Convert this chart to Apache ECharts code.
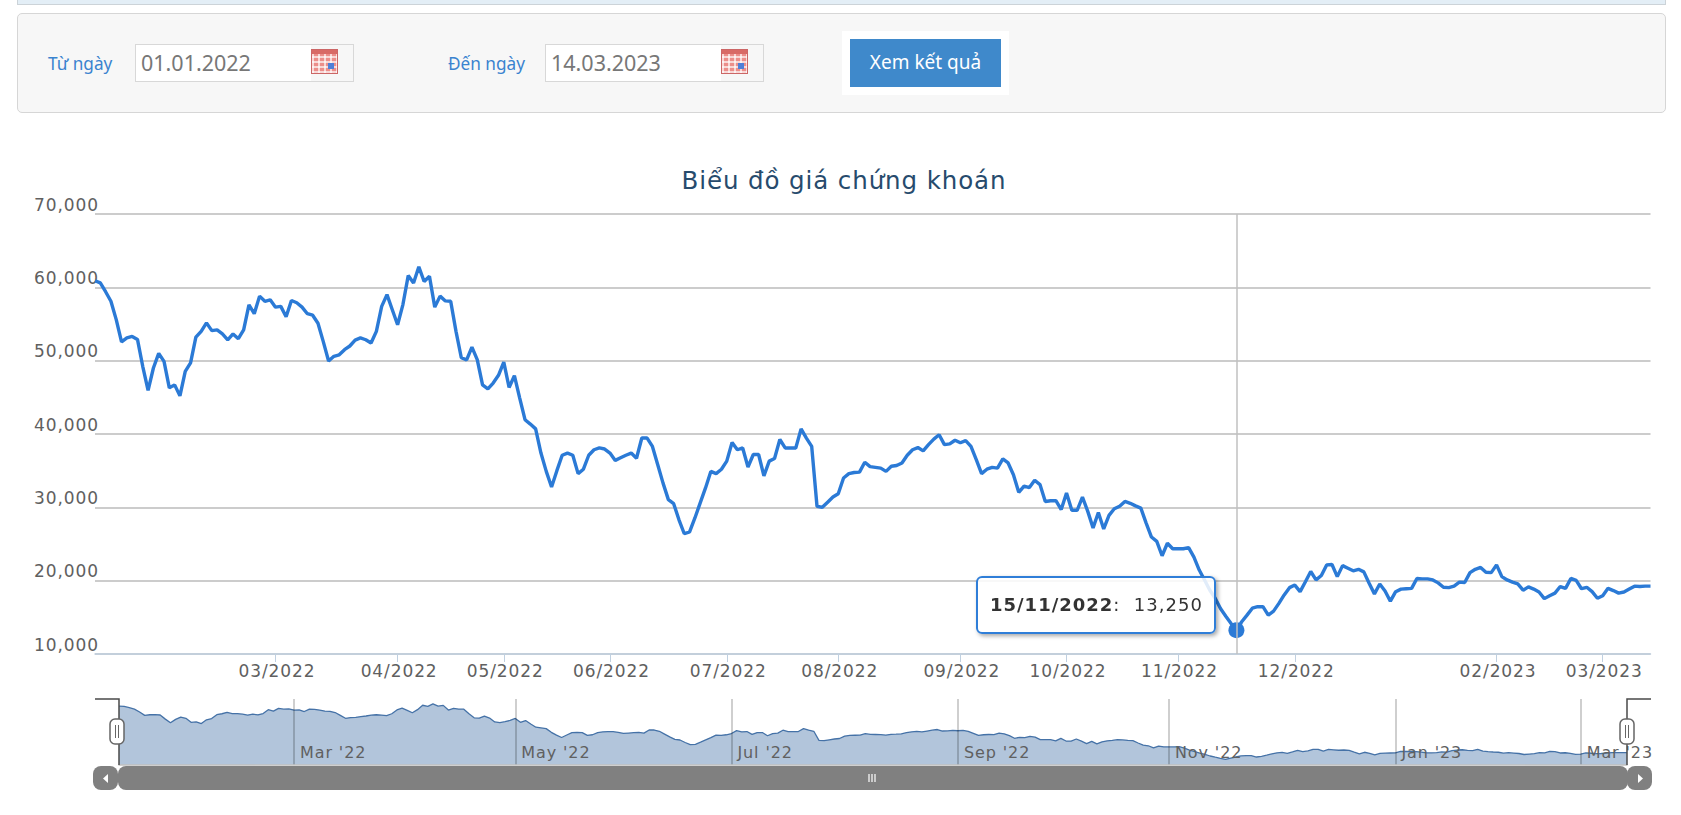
<!DOCTYPE html>
<html lang="vi"><head><meta charset="utf-8"><title>Biểu đồ giá chứng khoán</title>
<script src="https://cdn.jsdelivr.net/npm/echarts@6/dist/echarts.min.js"></script>
<style>
html,body{margin:0;padding:0;width:1681px;height:815px;overflow:hidden;background:#fff;font-family:"Noto Sans",sans-serif}
#chart{position:absolute;left:0;top:0;width:1681px;height:815px}
#chart text{letter-spacing:.9px}
.abs{position:absolute;box-sizing:border-box}
#band{left:17px;top:-4px;width:1649px;height:9px;background:#e3eef6;border:1px solid #ccd3d8}
#panel{left:17px;top:13px;width:1649px;height:100px;background:#f7f7f7;border:1px solid #d6d6d6;border-radius:5px}
.lab{color:#3a83cf;font-size:17.2px;line-height:24px;white-space:nowrap}
.inp{top:44px;width:219px;height:38px;background:#f7f7f7;border:1px solid #d8d8d8}
.inp b{position:absolute;left:0;top:0;bottom:0;width:175px;background:#fff;font-weight:400;color:#777;font-size:21.5px;line-height:36px;padding-left:5px;box-sizing:border-box}
.ico{top:49px;width:27px;height:25px;background:#ec8e8a;border:1px solid #c66;
 background-image:linear-gradient(#d86a66 0 4px,transparent 4px),repeating-linear-gradient(90deg,rgba(255,255,255,.65) 0 2px,transparent 2px 6px),repeating-linear-gradient(0deg,rgba(255,255,255,.65) 0 2px,transparent 2px 5px)}
.ico i{position:absolute;left:16px;top:13px;width:6px;height:6px;background:#4f7fd8}
#halo{left:842px;top:31px;width:167px;height:64px;background:#fff}
#btn{left:850px;top:39px;width:151px;height:48px;background:#3f89cb;color:#fff;font-size:19px;line-height:47px;text-align:center}
</style></head><body>
<div id="chart"></div>
<div class="abs" id="band"></div>
<div class="abs" id="panel"></div>
<div class="abs lab" style="left:48px;top:52px">Từ ngày</div>
<div class="abs inp" style="left:135px"><b>01.01.2022</b></div>
<div class="abs ico" style="left:311px"><i></i></div>
<div class="abs lab" style="left:448px;top:52px">Đến ngày</div>
<div class="abs inp" style="left:545px"><b>14.03.2023</b></div>
<div class="abs ico" style="left:721px"><i></i></div>
<div class="abs" id="halo"></div>
<div class="abs" id="btn">Xem kết quả</div>
<script>
const chartTitle = 'Biểu đồ giá chứng khoán';

// Session days of each month, in order (the chart's ordinal x axis).
const sessions = [
 ['01/2022',[5,6,7,10,11,12,13,14,17,18,19,20,21,24,25,26,27,28]],
 ['02/2022',[7,8,9,10,11,14,15,16,17,18,21,22,23,24,25,28]],
 ['03/2022',[1,2,3,4,7,8,9,10,11,14,15,16,17,18,21,22,23,24,25,28,29,30,31]],
 ['04/2022',[1,4,5,6,7,8,12,13,14,15,18,19,20,21,22,25,26,27,28,29]],
 ['05/2022',[4,5,6,9,10,11,12,13,16,17,18,19,20,23,24,25,26,27,30,31]],
 ['06/2022',[1,2,3,6,7,8,9,10,13,14,15,16,17,20,21,22,23,24,27,28,29,30]],
 ['07/2022',[1,4,5,6,7,8,11,12,13,14,15,18,19,20,21,22,25,26,27,28,29]],
 ['08/2022',[1,2,3,4,5,8,9,10,11,12,15,16,17,18,19,22,23,24,25,26,29,30,31]],
 ['09/2022',[5,6,7,8,9,12,13,14,15,16,19,20,21,22,23,26,27,28,29,30]],
 ['10/2022',[3,4,5,6,7,10,11,12,13,14,17,18,19,20,21,24,25,26,27,28,31]],
 ['11/2022',[1,2,3,4,5,7,8,9,10,11,14,15,17,18,21,22,23,24,25,28,29,30]],
 ['12/2022',[1,2,5,6,7,8,9,12,13,14,15,16,19,20,21,22,23,26,27,28,29,30]],
 ['01/2023',[3,4,5,6,9,10,11,12,13,16,17,18,19,27,30,31]],
 ['02/2023',[1,2,3,6,7,8,9,10,13,14,15,16,17,20,21,22,23,24,27,28]],
 ['03/2023',[1,2,3,6,7,8,9,10,13,14]]
];
const categories = sessions.flatMap(([m,ds]) => ds.map(d => String(d).padStart(2,'0') + '/' + m));

const closePrices = [
 60900,60600,59400,58100,55600,52550,53100,53300,52900,49200,45950,49000,51000,49900,46300,46700,45200,48550,49700,53200,
 54000,55150,54100,54200,53650,52850,53650,53000,54200,57600,56400,58800,58100,58300,57300,57400,56000,58200,57900,57300,
 56400,56200,55100,52600,49950,50600,50800,51500,52000,52800,53100,52850,52400,54000,57400,59000,56950,54900,57650,61600,
 60600,62800,60800,61500,57300,58800,58150,58100,54000,50400,50100,51850,50150,46700,46150,46950,48000,49800,46350,47950,
 44900,41950,41350,40700,37400,34900,32770,35000,37100,37400,37100,34600,35200,37100,37850,38100,37950,37400,36400,36750,
 37100,37400,36700,39450,39450,38300,35800,33300,31050,30500,28300,26400,26650,28550,30600,32650,34900,34600,35200,36300,
 38850,37850,38100,35500,37200,37200,34300,36300,36650,39250,38100,38100,38100,40700,39450,38300,30150,30000,30700,31400,
 31850,34000,34600,34750,34800,36150,35550,35450,35350,34900,35600,35700,36050,37100,37850,38150,37700,38550,39300,39900,
 38550,38650,39150,38800,39100,38300,36500,34600,35200,35450,35350,36600,36050,34450,32050,32900,32700,33700,33100,30800,
 30900,30900,29700,31950,29600,29600,31400,29450,27200,29300,27050,28900,29800,30150,30800,30550,30200,29900,27850,25950,
 25350,23400,25100,24350,24350,24350,24500,23200,21450,20100,18700,17600,16200,15150,14150,13250,14400,15300,16250,16450,
 16450,15300,15850,16900,18050,19050,19400,18500,19850,21250,20100,20700,22150,22200,20550,22050,21700,21350,21550,21200,
 19650,18200,19550,18600,17200,18500,18850,18900,18950,20300,20250,20250,20100,19700,19100,19050,19250,19800,19750,21100,
 21550,21800,21150,21100,22150,20550,20100,19800,19550,18700,19150,18850,18450,17550,17950,18300,19200,18950,20300,20050,
 18900,19100,18500,17600,17950,18950,18650,18300,18450,18850,19250,19200,19250,19250
];

const mainTickDates = ['01/03/2022','01/04/2022','04/05/2022','01/06/2022','01/07/2022','01/08/2022','05/09/2022','03/10/2022','01/11/2022','01/12/2022','01/02/2023','01/03/2023'];
const navTickDates = ['01/03/2022','04/05/2022','01/07/2022','05/09/2022','01/11/2022','03/01/2023','01/03/2023'];
const navTickLabels = ["Mar '22","May '22","Jul '22","Sep '22","Nov '22","Jan '23","Mar '23"];
const yTicks = {min:10000, max:70000, interval:10000};
const tipDate = '15/11/2022';

const fontUI = '"DejaVu Sans",sans-serif';
const isMainTick = (i,v) => mainTickDates.includes(v);
const isNavTick = (i,v) => navTickDates.includes(v);
const fmt = n => n.toLocaleString('en-US');
const tipIndex = categories.indexOf(tipDate);

const chart = echarts.init(document.getElementById('chart'), null, {renderer:'svg', width:1681, height:815});

const grey = '#808080', dark = '#4a4a4a', lineBlue = '#2b7ad6';
const handle = x => [
 {type:'rect',shape:{x:x,y:719,width:14,height:25,r:5},style:{fill:'#fff',stroke:'#666',lineWidth:1.5},z:50},
 {type:'line',shape:{x1:x+5.5,y1:725,x2:x+5.5,y2:738},style:{stroke:'#666',lineWidth:1},z:51},
 {type:'line',shape:{x1:x+8.5,y1:725,x2:x+8.5,y2:738},style:{stroke:'#666',lineWidth:1},z:51}
];

chart.setOption({
 animation:false,
 title:{text:chartTitle,left:839,textAlign:'center',top:163,
  textStyle:{color:'#274b6d',fontFamily:fontUI,fontSize:24.5,fontWeight:'normal'}},
 tooltip:{trigger:'axis',alwaysShowContent:true,transitionDuration:0,
  position:()=>[976,576],
  backgroundColor:'rgba(255,255,255,.86)',borderColor:'#2f7ed8',borderWidth:2,padding:0,
  extraCssText:'border-radius:6px;box-shadow:2px 2px 4px rgba(0,0,0,.35);width:240px;height:58px;box-sizing:border-box;',
  formatter:p=>`<div style="font:18px/54px 'DejaVu Sans';letter-spacing:1px;color:#333;padding-left:12px;white-space:nowrap"><b>${p[0].axisValue}</b>:&nbsp; ${fmt(p[0].value)}</div>`,
  axisPointer:{type:'line',lineStyle:{color:'#c0c0c0',width:1.5,type:'solid'},animation:false}
 },
 grid:[
  {left:95,width:1555.5,top:214,height:440,containLabel:false},
  {left:119,width:1508,top:699,height:66,containLabel:false}
 ],
 xAxis:[
  {type:'category',gridIndex:0,data:categories,boundaryGap:false,
   axisLine:{lineStyle:{color:'#c0d0e0',width:1.5}},
   axisTick:{interval:isMainTick,length:8,lineStyle:{color:'#c0d0e0',width:1}},
   axisLabel:{interval:isMainTick,formatter:v=>v.slice(3),color:'#606060',fontFamily:fontUI,fontSize:17,margin:8,padding:[0,0,0,3]},
   splitLine:{show:false},axisPointer:{show:true,label:{show:false}}},
  {type:'category',gridIndex:1,data:categories,boundaryGap:false,
   axisLine:{lineStyle:{color:'#c0c0c0',width:1.5}},
   axisTick:{show:false},
   splitLine:{show:true,interval:isNavTick,lineStyle:{color:'rgba(0,0,0,.25)',width:1.5}},
   axisLabel:{inside:true,interval:isNavTick,formatter:v=>navTickLabels[navTickDates.indexOf(v)],
     align:'left',verticalAlign:'middle',padding:[0,0,0,6],margin:13,color:'#606060',fontFamily:fontUI,fontSize:16},
   axisPointer:{show:false},z:5}
 ],
 yAxis:[
  {type:'value',gridIndex:0,min:yTicks.min,max:yTicks.max,interval:yTicks.interval,
   axisLine:{show:false},axisTick:{show:false},
   splitLine:{lineStyle:{color:'#bbbbbb',width:1.5}},
   axisLabel:{formatter:v=>fmt(v),align:'left',verticalAlign:'bottom',margin:61,color:'#606060',fontFamily:fontUI,fontSize:17,padding:[0,0,1,0]},
   axisPointer:{show:false}},
  {type:'value',gridIndex:1,min:8150,max:67200,show:false,splitLine:{show:false},axisPointer:{show:false}}
 ],
 series:[
  {type:'line',xAxisIndex:0,yAxisIndex:0,data:closePrices,showSymbol:false,symbol:'circle',symbolSize:16,
   lineStyle:{color:lineBlue,width:3.4},itemStyle:{color:lineBlue,borderWidth:0},
   emphasis:{scale:false,lineStyle:{color:lineBlue,width:3.4},itemStyle:{color:lineBlue,borderWidth:0}},z:3},
  {type:'line',xAxisIndex:1,yAxisIndex:1,data:closePrices,showSymbol:false,silent:true,tooltip:{show:false},
   lineStyle:{color:'#4572a7',width:1.3},areaStyle:{color:'rgba(69,114,167,.41)',opacity:1},z:2}
 ],
 graphic:[
  {type:'rect',shape:{x:118,y:766,width:1510,height:24,r:8},style:{fill:grey},z:40},
  {type:'rect',shape:{x:93,y:766,width:25,height:24,r:8},style:{fill:grey},z:41},
  {type:'rect',shape:{x:1627,y:766,width:25,height:24,r:8},style:{fill:grey},z:41},
  {type:'polygon',shape:{points:[[108,774],[103,778.5],[108,783]]},style:{fill:'#fff'},z:43},
  {type:'polygon',shape:{points:[[1638,774],[1643,778.5],[1638,783]]},style:{fill:'#fff'},z:43},
  ...[869,872,875].map(x=>({type:'line',shape:{x1:x,y1:774,x2:x,y2:782},style:{stroke:'#fff',lineWidth:1.2},z:43})),
  {type:'polyline',shape:{points:[[95,699],[119,699],[119,765]]},style:{fill:'none',stroke:dark,lineWidth:1.5},z:49},
  {type:'polyline',shape:{points:[[1651,699],[1627,699],[1627,765]]},style:{fill:'none',stroke:dark,lineWidth:1.5},z:49},
  ...handle(110),...handle(1620)
 ]
});
chart.dispatchAction({type:'showTip',seriesIndex:0,dataIndex:tipIndex});
</script>
</body></html>
